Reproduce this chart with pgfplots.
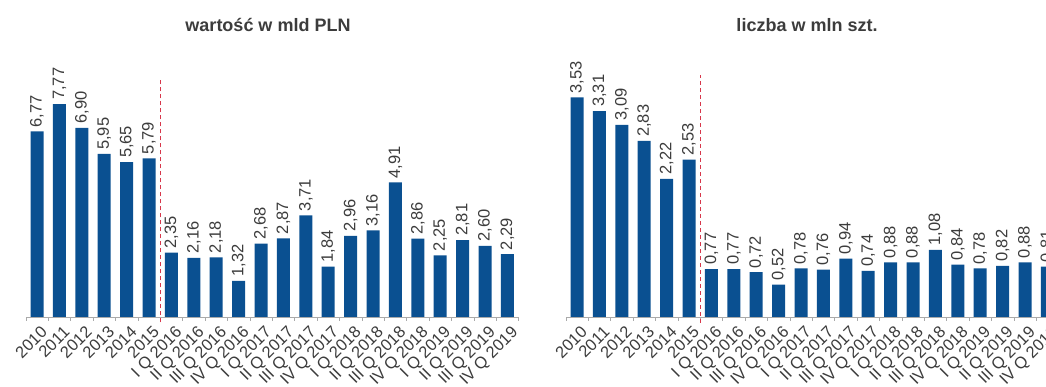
\documentclass[border=0pt]{standalone}
\usepackage{fontspec}
\setmainfont{Liberation Sans}
\usepackage{pgfplots}
\pgfplotsset{compat=1.18}
\definecolor{barblue}{RGB}{10,80,145}
\definecolor{dashred}{RGB}{215,55,75}
\definecolor{txt}{RGB}{60,60,60}
\definecolor{axgray}{RGB}{170,170,170}

\pgfplotsset{
  panel/.style={
    x=22.4pt, ymin=0, xmin=-0.5, xmax=21.5,
    anchor=south west,
    axis x line*=bottom, axis y line=none,
    axis line style={draw=axgray, line width=0.8pt},
    xtick={0,...,21},
    xticklabels={2010,2011,2012,2013,2014,2015,
      I Q 2016,II Q 2016,III Q 2016,IV Q 2016,
      I Q 2017,II Q 2017,III Q 2017,IV Q 2017,
      I Q 2018,II Q 2018,III Q 2018,IV Q 2018,
      I Q 2019,II Q 2019,III Q 2019,IV Q 2019},
    major tick length=0pt,
    extra x ticks={-0.5,0.5,...,21.5},
    extra x tick labels={},
    extra x tick style={major tick length=4pt, tick align=outside, tick style={draw=axgray, line width=0.6pt}},
    xticklabel style={xshift=3pt, yshift=-8pt, rotate=45, anchor=north east, font=\fontsize{16.5}{16.5}\selectfont, text=txt, inner sep=0pt},
    /pgf/number format/assume math mode=true,
    /pgf/number format/.cd, fixed, fixed zerofill, precision=2, use comma,
    /pgfplots/.cd,
    clip=false,
  },
  bars/.style={
    ybar, bar width=13pt, fill=barblue, draw=none,
    nodes near coords,
    every node near coord/.append style={rotate=90, anchor=west, font=\fontsize{16.5}{16.5}\selectfont, text=txt, inner sep=4pt},
  },
}

\begin{document}
\begin{tikzpicture}
\useasboundingbox (0,0) rectangle (1046pt,387pt);
\clip (0,0) rectangle (1046pt,387pt);

\node[font=\bfseries\fontsize{18}{18}\selectfont, text=txt] at (268pt,362pt) {wartość w mld PLN};
\node[font=\bfseries\fontsize{18}{18}\selectfont, text=txt] at (807pt,362pt) {liczba w mln szt.};

\begin{axis}[panel, y=27.4pt, ymax=9, at={(25.8pt,70pt)}]
\addplot[bars] coordinates {
 (0,6.77) (1,7.77) (2,6.90) (3,5.95) (4,5.65) (5,5.79)
 (6,2.35) (7,2.16) (8,2.18) (9,1.32)
 (10,2.68) (11,2.87) (12,3.71) (13,1.84)
 (14,2.96) (15,3.16) (16,4.91) (17,2.86)
 (18,2.25) (19,2.81) (20,2.60) (21,2.29)};
\addplot[dashred, line width=0.9pt, dash pattern=on 4pt off 3pt] coordinates {(5.5,-0.2) (5.5,8.65)};
\end{axis}

\begin{axis}[panel, y=62.2pt, ymax=4, at={(565.8pt,70pt)}]
\addplot[bars] coordinates {
 (0,3.53) (1,3.31) (2,3.09) (3,2.83) (4,2.22) (5,2.53)
 (6,0.77) (7,0.77) (8,0.72) (9,0.52)
 (10,0.78) (11,0.76) (12,0.94) (13,0.74)
 (14,0.88) (15,0.88) (16,1.08) (17,0.84)
 (18,0.78) (19,0.82) (20,0.88) (21,0.81)};
\addplot[dashred, line width=0.9pt, dash pattern=on 4pt off 3pt] coordinates {(5.5,-0.09) (5.5,3.89)};
\end{axis}
\end{tikzpicture}
\end{document}
